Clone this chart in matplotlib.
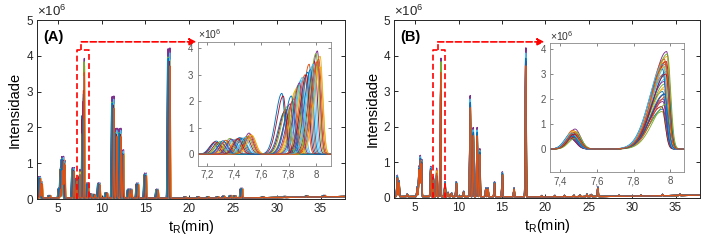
import numpy as np
import matplotlib
matplotlib.use('Agg')
import matplotlib.pyplot as plt

plt.rcParams['font.family'] = ['Liberation Sans', 'DejaVu Sans']
plt.rcParams['mathtext.fontset'] = 'custom'
plt.rcParams['mathtext.rm'] = 'Liberation Sans'

# MATLAB default colour order
colors = ['#0072BD', '#D95319', '#EDB120', '#7E2F8E', '#77AC30', '#4DBEEE', '#A2142F']

# peak table of the chromatogram (retention time in min, height in 1e6)
peak_rt = [2.95, 3.15, 4.1, 5.25, 5.45, 5.6, 5.75, 6.8, 7.1, 8.45, 8.8, 9.2, 9.75,
           10.6, 11.35, 11.7, 12.15, 12.45, 13.15, 13.4, 14.15, 15.05, 16.4, 17.75,
           19.6, 21.1, 22.2, 23.3, 24.0, 24.8, 25.3, 26.05, 28.5, 31.0, 33.5, 35.5]
peak_h = [0.6, 0.45, 0.07, 0.28, 0.85, 1.15, 1.05, 0.85, 0.55, 0.42, 0.12, 0.1, 0.42,
          0.15, 2.85, 1.95, 1.95, 1.35, 0.25, 0.25, 0.42, 0.7, 0.25, 4.2,
          0.04, 0.04, 0.04, 0.04, 0.05, 0.07, 0.06, 0.27, 0.03, 0.03, 0.04, 0.04]

# the two zoomed peaks
small_rt = 7.47
big_rt = 7.97

# per-sample values (30 injections)
shift_A = [-0.20, -0.02, -0.12, 0.04, -0.17, -0.08, 0.02, -0.22, -0.05, 0.06,
           -0.14, -0.10, 0.00, -0.19, -0.03, 0.05, -0.11, -0.16, 0.03, -0.07,
           -0.21, -0.01, -0.13, 0.06, -0.09, -0.18, 0.01, -0.04, -0.15, 0.04]
shift_B = [-0.010, 0.004, -0.006, 0.010, -0.014, 0.002, 0.008, -0.012, -0.004, 0.012,
           -0.008, 0.000, 0.006, -0.016, 0.010, -0.002, 0.004, -0.010, 0.014, -0.006,
           0.002, -0.012, 0.008, 0.000, -0.004, 0.010, -0.008, 0.006, -0.002, 0.004]
h_big = [1.6, 3.4, 2.4, 3.9, 1.5, 2.8, 3.5, 2.3, 3.0, 3.7,
         2.0, 2.6, 3.3, 1.7, 3.1, 3.6, 2.5, 1.9, 3.8, 2.9,
         2.2, 3.2, 2.1, 3.3, 2.7, 1.8, 3.4, 3.0, 2.2, 3.5]
h_small = [0.50, 0.62, 0.45, 0.80, 0.48, 0.55, 0.66, 0.40, 0.58, 0.70,
           0.46, 0.60, 0.52, 0.44, 0.63, 0.75, 0.49, 0.42, 0.68, 0.56,
           0.47, 0.61, 0.53, 0.72, 0.57, 0.43, 0.64, 0.59, 0.51, 0.66]
scale = [0.92, 0.90, 0.93, 1.00, 0.94, 0.98, 0.91,
         0.93, 0.89, 0.92, 0.99, 0.93, 0.97, 0.90,
         0.94, 0.90, 0.91, 0.995, 0.92, 0.975, 0.92,
         0.93, 0.89, 0.92, 0.985, 0.94, 0.965, 0.91, 0.93, 0.88]

base_rt = [2.6, 10, 20, 30, 38]
base_lv = [0.03, 0.03, 0.02, 0.04, 0.07]


def peak(t, rt, h, s_front, s_tail):
    s = np.where(t < rt, s_front, s_tail)
    return h * np.exp(-0.5 * ((t - rt) / s) ** 2)


def trace(t, i, shifts, s_big, full=True):
    d = shifts[i]
    y = np.zeros_like(t)
    if full:
        y += np.interp(t, base_rt, base_lv)
        for rt, h in zip(peak_rt, peak_h):
            y += peak(t, rt + d, h * scale[i], 0.05, 0.035)
    y += peak(t, small_rt + d, h_small[i], 0.035, 0.03)
    y += peak(t, big_rt + d, h_big[i], s_big[0], s_big[1])
    return y * 1e6


t_main = np.arange(2.5, 38.5, 0.004)
t_zoom = np.arange(7.0, 8.3, 0.001)

fig = plt.figure(figsize=(7.14, 2.44), dpi=100)

panels = [
    dict(label='(A)', shifts=shift_A, s_big=(0.045, 0.02),
         main=[0.0518, 0.1844, 0.4314, 0.7336],
         inset=[0.2769, 0.3209, 0.1867, 0.5082],
         ixlim=(7.134, 8.11), iylim=(-0.43e6, 4.25e6),
         ixticks=[7.2, 7.4, 7.6, 7.8, 8.0], ixlabels=['7,2', '7,4', '7,6', '7,8', '8'],
         box=(7.17, 8.54, 4.16e6), conn=7.67, arrow_y=4.39e6, arrow_end=20.83),
    dict(label='(B)', shifts=shift_B, s_big=(0.075, 0.018),
         main=[0.5522, 0.19, 0.428, 0.727],
         inset=[0.7707, 0.2939, 0.1868, 0.5287],
         ixlim=(7.345, 8.073), iylim=(-0.93e6, 4.23e6),
         ixticks=[7.4, 7.6, 7.8, 8.0], ixlabels=['7,4', '7,6', '7,8', '8'],
         box=(7.1, 8.45, 4.16e6), conn=7.6, arrow_y=4.39e6, arrow_end=19.9),
]

for p in panels:
    ax = fig.add_axes(p['main'])
    for i in range(30):
        ax.plot(t_main, trace(t_main, i, p['shifts'], p['s_big']),
                color=colors[i % 7], lw=0.9)
    ax.set_xlim(2.6, 37.8)
    ax.set_ylim(0, 5e6)
    ax.set_xticks([5, 10, 15, 20, 25, 30, 35])
    ax.set_yticks([0, 1e6, 2e6, 3e6, 4e6, 5e6])
    ax.set_yticklabels(['0', '1', '2', '3', '4', '5'])
    ax.tick_params(direction='in', top=True, right=True, length=3, width=0.7,
                   labelsize=8.5, colors='#262626', pad=3)
    for sp in ax.spines.values():
        sp.set_linewidth(0.7)
        sp.set_color('#262626')
    ax.set_ylabel('Intensidade', fontsize=10.5, labelpad=3)
    ax.set_xlabel(r't$_\mathregular{R}$(min)', fontsize=10.5, labelpad=2)
    ax.text(0.0, 1.005, r'$\times$10$^6$', transform=ax.transAxes, fontsize=9.5,
            ha='left', va='bottom', color='#262626')
    ax.text(0.02, 0.905, p['label'], transform=ax.transAxes, fontsize=10.5,
            fontweight='bold', ha='left', va='center')

    # red dashed zoom box and arrow
    x0, x1, yt = p['box']
    ax.plot([x0, x0, x1, x1], [0, yt, yt, 0], color='red', ls='--', lw=1.2,
            dashes=(3.5, 2), clip_on=False)
    ax.plot([p['conn'], p['conn']], [yt, p['arrow_y']], color='red', ls='--',
            lw=1.2, dashes=(3.5, 2))
    ax.annotate('', xy=(p['arrow_end'], p['arrow_y']), xytext=(p['conn'], p['arrow_y']),
                arrowprops=dict(arrowstyle='-|>', color='red', lw=1.2, ls='--',
                                mutation_scale=10, shrinkA=0, shrinkB=0))

    ins = fig.add_axes(p['inset'])
    for i in range(30):
        ins.plot(t_zoom, trace(t_zoom, i, p['shifts'], p['s_big'], full=False),
                 color=colors[i % 7], lw=0.65)
    ins.set_xlim(*p['ixlim'])
    ins.set_ylim(*p['iylim'])
    ins.set_xticks(p['ixticks'])
    ins.set_xticklabels(p['ixlabels'])
    ins.set_yticks([0, 1e6, 2e6, 3e6, 4e6])
    ins.set_yticklabels(['0', '1', '2', '3', '4'])
    ins.tick_params(direction='in', top=True, right=True, length=2, width=0.5,
                    labelsize=7, colors='#555555', pad=3)
    for sp in ins.spines.values():
        sp.set_linewidth(0.6)
        sp.set_color('#888888')
    ins.text(0.0, 1.005, r'$\times$10$^6$', transform=ins.transAxes, fontsize=7.5,
             ha='left', va='bottom', color='#333333')

fig.savefig('out.png', dpi=100)
